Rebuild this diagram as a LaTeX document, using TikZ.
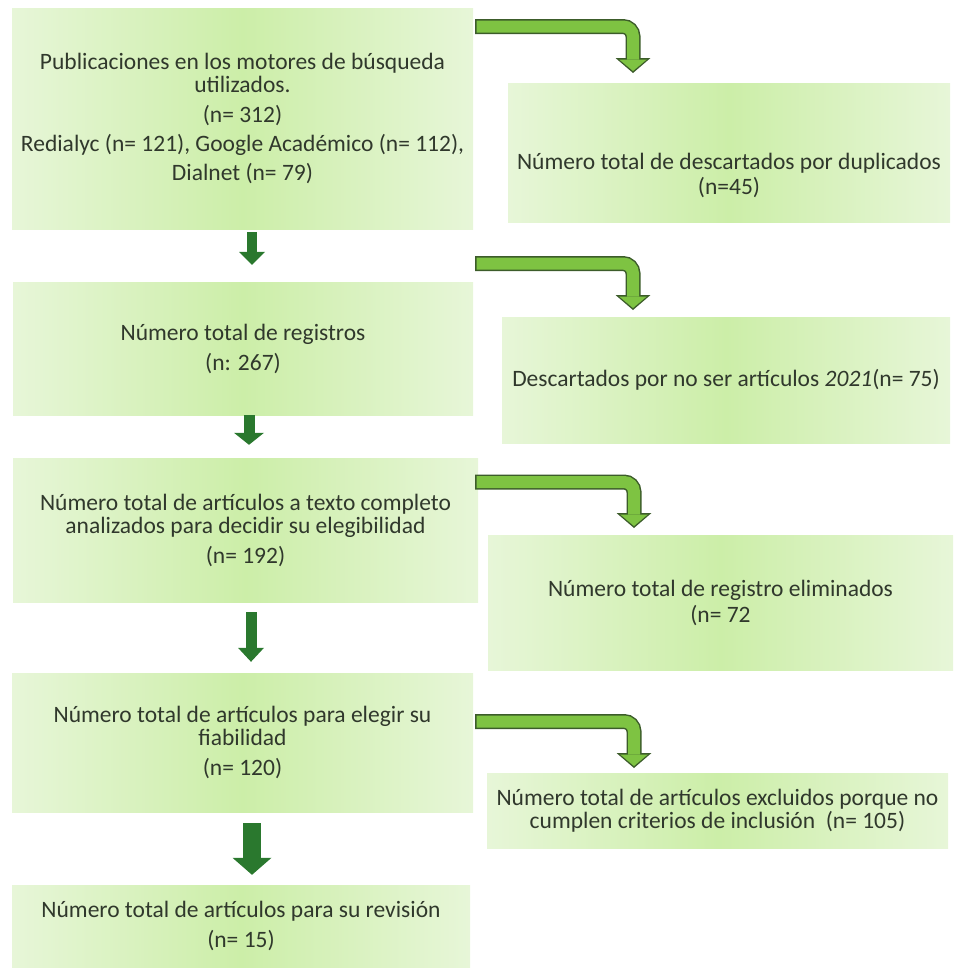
\documentclass[tikz,border=0pt]{standalone}
\usepackage{fontspec}
\setmainfont{Carlito}
\usetikzlibrary{arrows.meta}
\definecolor{verdeclaro}{RGB}{231,246,216}
\definecolor{verdemedio}{RGB}{204,238,168}
\definecolor{verdeoscuro}{RGB}{42,120,46}
\definecolor{verdeflecha}{RGB}{126,195,66}
\definecolor{bordeflecha}{RGB}{60,92,42}
\definecolor{tinta}{RGB}{48,56,44}

\begin{document}
\begin{tikzpicture}[x=1pt,y=-1pt]

    \tikzset{
      caja/.style={
        left color=verdeclaro,
        right color=verdeclaro,
        middle color=verdemedio,
        inner sep=0pt,
        text=tinta,
        align=center,
        font=\fontsize{23.5}{23}\selectfont,
      },
      rotulo/.style={
        inner sep=0pt,
        text=tinta,
        align=center,
        font=\fontsize{23.5}{23}\selectfont,
      },
      bajada/.style={
        color=verdeoscuro,
      },
      lateral/.style={
        draw=bordeflecha,
        line width=15pt,
        rounded corners=10pt,
        -{Triangle[width=35pt,length=15pt,line width=0pt]},
      },
      lateralin/.style={
        draw=verdeflecha,
        line width=12pt,
        rounded corners=10pt,
        shorten <=1.5pt,
        shorten >=2pt,
        -{Triangle[width=27.6pt,length=11.5pt,line width=0pt]},
      },
    }
    \useasboundingbox (0,0) rectangle (956,970);

	\node[caja,minimum width=461pt,minimum height=221pt] (pub) at (242.5,118.5) {Publicaciones en los motores de búsqueda\\ utilizados.\\[7pt] (n= 312)\\[6pt] Redialyc (n= 121), Google Académico (n= 112),\\[6pt] Dialnet (n= 79)};
	\node[caja,minimum width=460pt,minimum height=133pt] (reg) at (243,348.5) {Número total de registros\\[7pt] (n: 267)};
	\node[caja,minimum width=465pt,minimum height=144pt] (analiz) at (245.5,530) {Número total de artículos a texto completo\\ analizados para decidir su elegibilidad\\[7pt] (n= 192)};
	\node[caja,minimum width=461pt,minimum height=139pt] (fiab) at (242.5,742.5) {Número total de artículos para elegir su\\ fiabilidad\\[7pt] (n= 120)};
	\node[caja,minimum width=458pt,minimum height=82pt] (rev) at (241,926) {Número total de artículos para su revisión\\[7pt] (n= 15)};

	\node[caja,minimum width=442pt,minimum height=139pt] (dup) at (729,152.5) {};
	\node[rotulo] (dupt) at ([yshift=-23pt]dup.center) {Número total de descartados por duplicados\\[2pt] (n=45)};
	\node[caja,minimum width=448pt,minimum height=126pt] (desc) at (726,380) {Descartados por no ser artículos \textit{2021}(n= 75)};
	\node[caja,minimum width=465pt,minimum height=135pt] (elim) at (720.5,602.5) {Número total de registro eliminados\\[3pt] (n= 72};
	\node[caja,minimum width=461pt,minimum height=75pt] (excl) at (717.5,810.5) {Número total de artículos excluidos porque no\\ cumplen criterios de inclusión~ (n= 105)};

	\draw[bajada,line width = 10pt,shorten <=3pt,shorten >=17pt,-{Triangle[width=26pt,length=13pt,line width=0pt]}] ([xshift=9.5pt]pub.south) -- ([xshift=9pt]reg.north);
	\draw[bajada,line width = 11pt,shorten >=13pt,-{Triangle[width=30pt,length=12pt,line width=0pt]}] ([xshift=6pt]reg.south) -- ([xshift=3.5pt]analiz.north);
	\draw[bajada,line width = 11pt,shorten <=10pt,shorten >=11pt,-{Triangle[width=26pt,length=14pt,line width=0pt]}] ([xshift=5.5pt]analiz.south) -- ([xshift=8.5pt]fiab.north);
	\draw[bajada,line width = 18pt,shorten <=11pt,shorten >=10pt,-{Triangle[width=39pt,length=17pt,line width=0pt]}] ([xshift=9.5pt]fiab.south) -- ([xshift=11pt]rev.north);

	\coordinate (c1a) at (475,26.5);
	\coordinate (c1b) at (633,73);
	\coordinate (c2a) at (475,263.5);
	\coordinate (c2b) at (633,310);
	\coordinate (c3a) at (475,482);
	\coordinate (c3b) at (634,528);
	\coordinate (c4a) at (475,721.5);
	\coordinate (c4b) at (634,768);

	\draw[lateral] (c1a) -| (c1b);
	\draw[lateral] (c2a) -| (c2b);
	\draw[lateral] (c3a) -| (c3b);
	\draw[lateral] (c4a) -| (c4b);
	\draw[lateralin] (c1a) -| (c1b);
	\draw[lateralin] (c2a) -| (c2b);
	\draw[lateralin] (c3a) -| (c3b);
	\draw[lateralin] (c4a) -| (c4b);

\end{tikzpicture}
\end{document}
